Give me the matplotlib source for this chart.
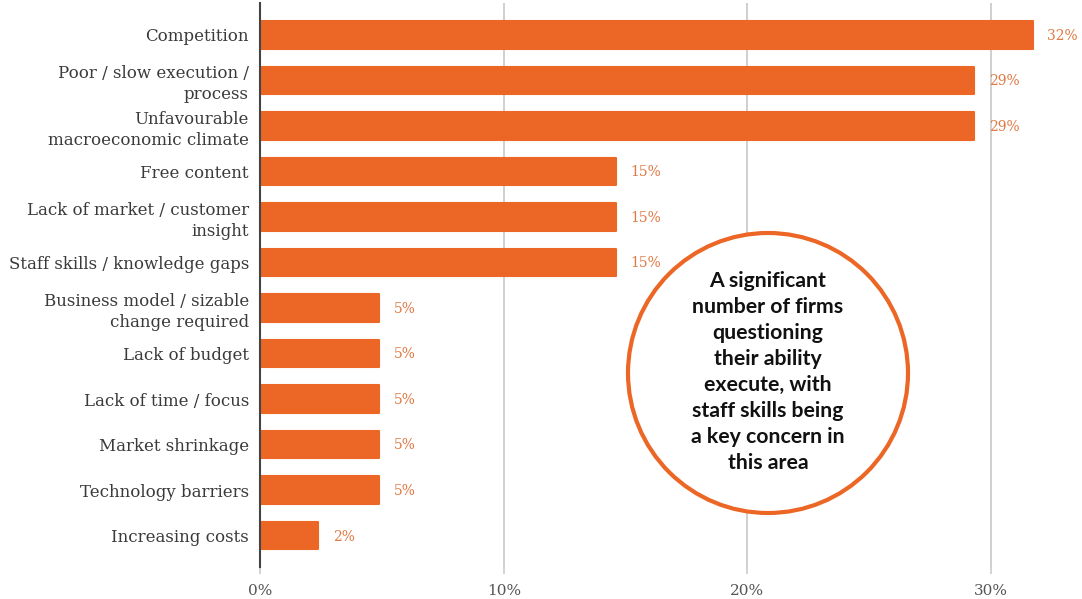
import matplotlib
matplotlib.use("Agg")
import matplotlib.pyplot as plt
from matplotlib.patches import Ellipse

categories = [
    "Competition",
    "Poor / slow execution /\nprocess",
    "Unfavourable\nmacroeconomic climate",
    "Free content",
    "Lack of market / customer\ninsight",
    "Staff skills / knowledge gaps",
    "Business model / sizable\nchange required",
    "Lack of budget",
    "Lack of time / focus",
    "Market shrinkage",
    "Technology barriers",
    "Increasing costs",
]
values = [31.7, 29.3, 29.3, 14.6, 14.6, 14.6, 4.9, 4.9, 4.9, 4.9, 4.9, 2.4]
xticks = [0, 10, 20, 30]
xtick_labels = ["0%", "10%", "20%", "30%"]
note = ("A significant\nnumber of firms\nquestioning\ntheir ability\nexecute, with\n"
        "staff skills being\na key concern in\nthis area")

ORANGE = "#EC6726"
W, H = 1082, 599
fig = plt.figure(figsize=(W / 100, H / 100), dpi=100)
ax = fig.add_axes([260 / W, 1 - 567 / H, (W - 260) / W, (567 - 3) / H])

y = list(range(len(categories)))
ax.barh(y, values, height=0.6, color=ORANGE, edgecolor=ORANGE, linewidth=1.5,
        joinstyle="round", zorder=3)
for yi, v in zip(y, values):
    ax.text(v + 0.6, yi + 0.02, f"{round(v)}%", va="center", ha="left",
            fontsize=10, color="#E07A45", family="DejaVu Serif", zorder=4)

ax.set_xlim(0, (W - 260) / 24.37)
ax.set_ylim(11.69, -0.70)
ax.set_yticks(y)
ax.set_yticklabels(categories, family="DejaVu Serif", fontsize=12, color="#3a3a3a",
                   linespacing=1.3)
ax.set_xticks(xticks)
ax.set_xticklabels(xtick_labels, family="DejaVu Serif", fontsize=11, color="#555555")
ax.tick_params(axis="y", length=0, pad=8)
ax.tick_params(axis="x", length=5, color="#cccccc", width=1.2, pad=7)
ax.grid(axis="x", color="#cccccc", linewidth=1.3, zorder=0)
for s in ["top", "right", "bottom"]:
    ax.spines[s].set_visible(False)
ax.spines["left"].set_color("#444444")
ax.spines["left"].set_linewidth(1.5)
ax.spines["left"].set_zorder(5)

cx, cy, r = 768, 373, 140
circ = Ellipse((cx / W, 1 - cy / H), 2 * r / W, 2 * r / H, transform=fig.transFigure,
               facecolor="white", edgecolor=ORANGE, linewidth=3, zorder=10)
fig.add_artist(circ)
fig.text(cx / W, 1 - (cy - 1) / H, note, ha="center", va="center", family="Lato",
         fontweight="bold", fontsize=15.3, color="#111111", linespacing=1.37, zorder=11)

fig.savefig("out.png", dpi=100, facecolor="white")
